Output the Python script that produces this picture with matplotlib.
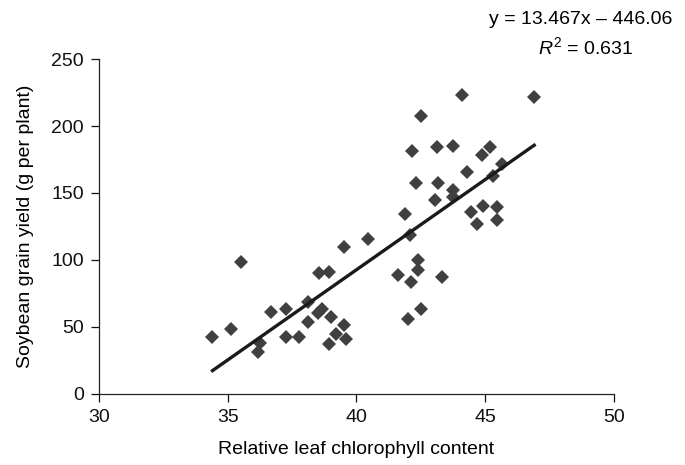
import numpy as np
import matplotlib.pyplot as plt

plt.rcParams['font.family'] = ['Liberation Sans', 'DejaVu Sans']
plt.rcParams['mathtext.fontset'] = 'custom'
plt.rcParams['mathtext.rm'] = 'Liberation Sans'
plt.rcParams['mathtext.it'] = 'Liberation Sans:italic'

# chlorophyll (x) vs yield (y)
chl = [34.41, 35.11, 35.50, 36.26, 36.18, 36.69, 37.28, 37.28, 37.79, 38.13,
       38.13, 38.56, 38.93, 38.51, 38.68, 39.02, 38.93, 39.19, 39.52, 39.61,
       39.52, 40.46, 41.61, 41.90, 42.07, 42.16, 42.33, 42.12, 41.99, 42.41,
       42.41, 42.50, 42.50, 43.14, 43.17, 43.06, 43.34, 43.77, 43.77, 43.77,
       44.11, 44.28, 44.45, 44.70, 44.87, 44.92, 45.21, 45.30, 45.47, 45.47,
       45.64, 46.91]
yld = [42.7, 48.5, 98.4, 37.8, 31.1, 61.4, 63.1, 42.7, 42.7, 68.6,
       53.9, 90.5, 91.2, 60.1, 63.1, 57.2, 37.3, 44.5, 51.4, 40.8,
       109.8, 115.3, 88.7, 134.2, 118.5, 181.4, 157.1, 83.7, 55.7, 99.9,
       92.4, 63.1, 207.3, 184.4, 157.1, 144.6, 87.0, 185.4, 152.1, 147.1,
       222.9, 165.8, 135.7, 126.7, 178.2, 140.2, 184.4, 162.5, 139.2, 129.7,
       172.0, 221.7]

slope, intercept = 13.467, -446.06
r2 = 0.631

fig = plt.figure(figsize=(6.85, 4.65), dpi=100)
ax = fig.add_axes([0.1445, 0.153, 0.7515, 0.72])

ax.plot(chl, yld, 'D', color='#404040', markersize=7.6, markeredgewidth=0, zorder=2)

xl = np.array([min(chl), max(chl)])
ax.plot(xl, slope * xl + intercept, color='#1a1a1a', linewidth=2.4, zorder=3)

ax.set_xlim(30, 50)
ax.set_ylim(0, 250)
ax.set_xticks([30, 35, 40, 45, 50])
ax.set_yticks([0, 50, 100, 150, 200, 250])
for s in ['top', 'right']:
    ax.spines[s].set_visible(False)
for s in ['left', 'bottom']:
    ax.spines[s].set_linewidth(0.9)
    ax.spines[s].set_color('#222222')
ax.tick_params(direction='out', length=6, width=0.9, labelsize=14, pad=5, colors='#111111')
ax.set_xlabel('Relative leaf chlorophyll content', fontsize=14, labelpad=11)
ax.set_ylabel('Soybean grain yield (g per plant)', fontsize=14, labelpad=12)

fig.text(0.847, 0.959, 'y = 13.467x \u2013 446.06', ha='center', va='center', fontsize=14)
fig.text(0.855, 0.899, '$R^2$ = %.3f' % r2, ha='center', va='center', fontsize=14)

fig.savefig('out.png', dpi=100)
